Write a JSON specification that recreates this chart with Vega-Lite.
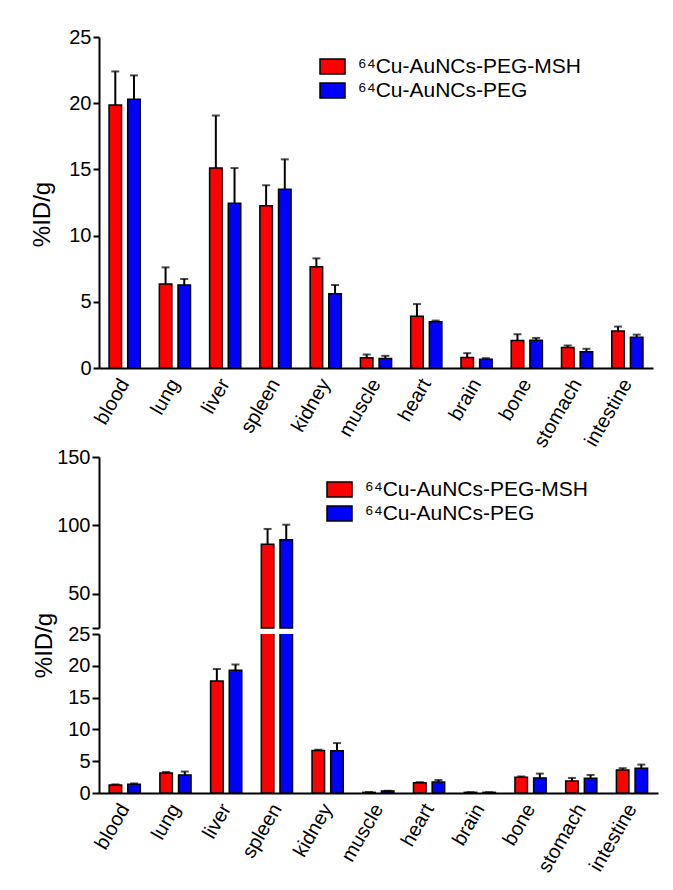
{
  "$schema": "https://vega.github.io/schema/vega-lite/v6.json",
  "background": "white",
  "padding": {"left": 30, "top": 27, "right": 5, "bottom": 5},
  "datasets": {
    "top": [
      {"organ": "blood", "group": "⁶⁴Cu-AuNCs-PEG-MSH", "mean": 19.86, "upper": 22.4},
      {"organ": "blood", "group": "⁶⁴Cu-AuNCs-PEG", "mean": 20.3, "upper": 22.1},
      {"organ": "lung", "group": "⁶⁴Cu-AuNCs-PEG-MSH", "mean": 6.34, "upper": 7.6},
      {"organ": "lung", "group": "⁶⁴Cu-AuNCs-PEG", "mean": 6.27, "upper": 6.72},
      {"organ": "liver", "group": "⁶⁴Cu-AuNCs-PEG-MSH", "mean": 15.1, "upper": 19.07},
      {"organ": "liver", "group": "⁶⁴Cu-AuNCs-PEG", "mean": 12.45, "upper": 15.1},
      {"organ": "spleen", "group": "⁶⁴Cu-AuNCs-PEG-MSH", "mean": 12.25, "upper": 13.8},
      {"organ": "spleen", "group": "⁶⁴Cu-AuNCs-PEG", "mean": 13.5, "upper": 15.76},
      {"organ": "kidney", "group": "⁶⁴Cu-AuNCs-PEG-MSH", "mean": 7.65, "upper": 8.28},
      {"organ": "kidney", "group": "⁶⁴Cu-AuNCs-PEG", "mean": 5.6, "upper": 6.27},
      {"organ": "muscle", "group": "⁶⁴Cu-AuNCs-PEG-MSH", "mean": 0.77, "upper": 1.02},
      {"organ": "muscle", "group": "⁶⁴Cu-AuNCs-PEG", "mean": 0.72, "upper": 0.92},
      {"organ": "heart", "group": "⁶⁴Cu-AuNCs-PEG-MSH", "mean": 3.9, "upper": 4.83},
      {"organ": "heart", "group": "⁶⁴Cu-AuNCs-PEG", "mean": 3.5, "upper": 3.58},
      {"organ": "brain", "group": "⁶⁴Cu-AuNCs-PEG-MSH", "mean": 0.79, "upper": 1.12},
      {"organ": "brain", "group": "⁶⁴Cu-AuNCs-PEG", "mean": 0.67, "upper": 0.74},
      {"organ": "bone", "group": "⁶⁴Cu-AuNCs-PEG-MSH", "mean": 2.07, "upper": 2.55},
      {"organ": "bone", "group": "⁶⁴Cu-AuNCs-PEG", "mean": 2.1, "upper": 2.27},
      {"organ": "stomach", "group": "⁶⁴Cu-AuNCs-PEG-MSH", "mean": 1.55, "upper": 1.7},
      {"organ": "stomach", "group": "⁶⁴Cu-AuNCs-PEG", "mean": 1.22, "upper": 1.45},
      {"organ": "intestine", "group": "⁶⁴Cu-AuNCs-PEG-MSH", "mean": 2.8, "upper": 3.13},
      {"organ": "intestine", "group": "⁶⁴Cu-AuNCs-PEG", "mean": 2.32, "upper": 2.52}
    ],
    "bottom": [
      {"organ": "blood", "group": "⁶⁴Cu-AuNCs-PEG-MSH", "mean": 1.26, "upper": 1.35},
      {"organ": "blood", "group": "⁶⁴Cu-AuNCs-PEG", "mean": 1.37, "upper": 1.5},
      {"organ": "lung", "group": "⁶⁴Cu-AuNCs-PEG-MSH", "mean": 3.16, "upper": 3.3},
      {"organ": "lung", "group": "⁶⁴Cu-AuNCs-PEG", "mean": 2.84, "upper": 3.37},
      {"organ": "liver", "group": "⁶⁴Cu-AuNCs-PEG-MSH", "mean": 17.6, "upper": 19.5},
      {"organ": "liver", "group": "⁶⁴Cu-AuNCs-PEG", "mean": 19.3, "upper": 20.2},
      {"organ": "spleen", "group": "⁶⁴Cu-AuNCs-PEG-MSH", "mean": 86.2, "upper": 97.4},
      {"organ": "spleen", "group": "⁶⁴Cu-AuNCs-PEG", "mean": 89.5, "upper": 100.5},
      {"organ": "kidney", "group": "⁶⁴Cu-AuNCs-PEG-MSH", "mean": 6.69, "upper": 6.8},
      {"organ": "kidney", "group": "⁶⁴Cu-AuNCs-PEG", "mean": 6.64, "upper": 7.85},
      {"organ": "muscle", "group": "⁶⁴Cu-AuNCs-PEG-MSH", "mean": 0.1, "upper": 0.15},
      {"organ": "muscle", "group": "⁶⁴Cu-AuNCs-PEG", "mean": 0.3, "upper": 0.35},
      {"organ": "heart", "group": "⁶⁴Cu-AuNCs-PEG-MSH", "mean": 1.63, "upper": 1.7},
      {"organ": "heart", "group": "⁶⁴Cu-AuNCs-PEG", "mean": 1.74, "upper": 2.05},
      {"organ": "brain", "group": "⁶⁴Cu-AuNCs-PEG-MSH", "mean": 0.1, "upper": 0.12},
      {"organ": "brain", "group": "⁶⁴Cu-AuNCs-PEG", "mean": 0.1, "upper": 0.12},
      {"organ": "bone", "group": "⁶⁴Cu-AuNCs-PEG-MSH", "mean": 2.47, "upper": 2.6},
      {"organ": "bone", "group": "⁶⁴Cu-AuNCs-PEG", "mean": 2.37, "upper": 3.05},
      {"organ": "stomach", "group": "⁶⁴Cu-AuNCs-PEG-MSH", "mean": 1.9, "upper": 2.37},
      {"organ": "stomach", "group": "⁶⁴Cu-AuNCs-PEG", "mean": 2.32, "upper": 2.84},
      {"organ": "intestine", "group": "⁶⁴Cu-AuNCs-PEG-MSH", "mean": 3.63, "upper": 3.9},
      {"organ": "intestine", "group": "⁶⁴Cu-AuNCs-PEG", "mean": 3.9, "upper": 4.47}
    ]
  },
  "config": {
    "font": "Liberation Sans",
    "view": {"stroke": null},
    "axis": {
      "domainColor": "black", "domainWidth": 2, "tickColor": "black", "tickWidth": 2,
      "labelColor": "black", "labelFontSize": 20, "labelFont": "Liberation Sans", "labelOverlap": false,
      "titleColor": "black", "titleFontSize": 24, "titleFontWeight": "normal", "titleFont": "Liberation Sans",
      "grid": false
    },
    "legend": {
      "orient": "none", "title": null, "padding": 0,
      "symbolType": "M-1,-0.6H1V0.6H-1Z", "symbolSize": 625,
      "symbolStrokeColor": "black", "symbolStrokeWidth": 1.5,
      "labelFontSize": 21, "labelColor": "black", "labelFont": "Liberation Sans",
      "labelOffset": 12, "rowPadding": 0, "labelLimit": 400
    }
  },
  "resolve": {"scale": {"color": "independent"}, "legend": {"color": "independent"}},
  "bounds": "flush",
  "spacing": 89,
  "vconcat": [
    {
      "width": 554,
      "height": 331,
      "data": {"name": "top"},
      "encoding": {
        "x": {"field": "organ", "type": "nominal",
          "scale": {"domain": ["blood","lung","liver","spleen","kidney","muscle","heart","brain","bone","stomach","intestine"], "paddingInner": 0.38, "paddingOuter": 0.2},
          "axis": {"title": null, "labelAngle": -60, "ticks": false, "tickSize": 0, "labelPadding": 12}},
        "xOffset": {"field": "group", "type": "nominal",
          "scale": {"domain": ["⁶⁴Cu-AuNCs-PEG-MSH", "⁶⁴Cu-AuNCs-PEG"], "paddingInner": 0.33}},
        "y": {"field": "mean", "type": "quantitative", "title": "%ID/g",
          "scale": {"domain": [0, 25], "nice": false},
          "axis": {"values": [0, 5, 10, 15, 20, 25], "labelOverlap": false, "tickSize": 6, "labelPadding": 2, "titlePadding": 14, "titleY": 177}}
      },
      "layer": [
        {
          "mark": {"type": "bar", "stroke": "black", "strokeWidth": 1.5},
          "encoding": {
            "color": {"field": "group", "type": "nominal",
              "scale": {"domain": ["⁶⁴Cu-AuNCs-PEG-MSH", "⁶⁴Cu-AuNCs-PEG"], "range": ["#ff0000", "#0000ff"]},
              "legend": {"legendX": 220, "legendY": 16}}
          }
        },
        {
          "mark": {"type": "rule", "color": "black", "strokeWidth": 2},
          "encoding": {"y2": {"field": "upper"}}
        },
        {
          "mark": {"type": "tick", "color": "black", "thickness": 2, "size": 8},
          "encoding": {"y": {"field": "upper", "type": "quantitative", "title": "%ID/g"}}
        }
      ]
    },
    {
      "bounds": "flush",
      "spacing": 6,
      "resolve": {"scale": {"color": "independent"}, "legend": {"color": "independent"}},
      "vconcat": [
        {
          "width": 559,
          "height": 171,
          "data": {"name": "bottom"},
          "transform": [{"filter": "datum.mean > 25"}],
          "encoding": {
            "x": {"field": "organ", "type": "nominal",
              "scale": {"domain": ["blood","lung","liver","spleen","kidney","muscle","heart","brain","bone","stomach","intestine"], "paddingInner": 0.38, "paddingOuter": 0.2},
              "axis": null},
            "xOffset": {"field": "group", "type": "nominal",
              "scale": {"domain": ["⁶⁴Cu-AuNCs-PEG-MSH", "⁶⁴Cu-AuNCs-PEG"], "paddingInner": 0.33}},
            "y": {"field": "mean", "type": "quantitative", "title": null,
              "scale": {"domain": [25, 150], "nice": false, "zero": false},
              "axis": {"values": [25, 50, 100, 150], "labelOverlap": false, "tickSize": 7, "labelPadding": 2,
                "labelExpr": "datum.value == 25 ? '' : datum.label"}}
          },
          "layer": [
            {
              "mark": {"type": "bar", "stroke": "black", "strokeWidth": 1.5},
              "encoding": {
                "y2": {"datum": 25},
                "color": {"field": "group", "type": "nominal",
                  "scale": {"domain": ["⁶⁴Cu-AuNCs-PEG-MSH", "⁶⁴Cu-AuNCs-PEG"], "range": ["#ff0000", "#0000ff"]},
                  "legend": {"legendX": 227, "legendY": 19}}
              }
            },
            {
              "mark": {"type": "rule", "color": "black", "strokeWidth": 2},
              "encoding": {"y2": {"field": "upper"}}
            },
            {
              "mark": {"type": "tick", "color": "black", "thickness": 2, "size": 8},
              "encoding": {"y": {"field": "upper", "type": "quantitative", "title": null}}
            }
          ]
        },
        {
          "width": 559,
          "height": 159,
          "data": {"name": "bottom"},
          "encoding": {
            "x": {"field": "organ", "type": "nominal",
              "scale": {"domain": ["blood","lung","liver","spleen","kidney","muscle","heart","brain","bone","stomach","intestine"], "paddingInner": 0.38, "paddingOuter": 0.2},
              "axis": {"title": null, "labelAngle": -60, "ticks": false, "tickSize": 0, "labelPadding": 12}},
            "xOffset": {"field": "group", "type": "nominal",
              "scale": {"domain": ["⁶⁴Cu-AuNCs-PEG-MSH", "⁶⁴Cu-AuNCs-PEG"], "paddingInner": 0.33}},
            "y": {"field": "mean", "type": "quantitative", "title": "%ID/g",
              "scale": {"domain": [0, 25], "nice": false},
              "axis": {"values": [0, 5, 10, 15, 20, 25], "labelOverlap": false, "tickSize": 7, "labelPadding": 2, "titlePadding": 11, "titleY": 11}}
          },
          "layer": [
            {
              "mark": {"type": "bar", "stroke": "black", "strokeWidth": 1.5, "clip": true},
              "encoding": {
                "color": {"field": "group", "type": "nominal",
                  "scale": {"domain": ["⁶⁴Cu-AuNCs-PEG-MSH", "⁶⁴Cu-AuNCs-PEG"], "range": ["#ff0000", "#0000ff"]},
                  "legend": null}
              }
            },
            {
              "transform": [{"filter": "datum.upper < 25"}],
              "mark": {"type": "rule", "color": "black", "strokeWidth": 2},
              "encoding": {"y2": {"field": "upper"}}
            },
            {
              "transform": [{"filter": "datum.upper < 25"}],
              "mark": {"type": "tick", "color": "black", "thickness": 2, "size": 8},
              "encoding": {"y": {"field": "upper", "type": "quantitative", "title": "%ID/g"}}
            }
          ]
        }
      ]
    }
  ]
}
